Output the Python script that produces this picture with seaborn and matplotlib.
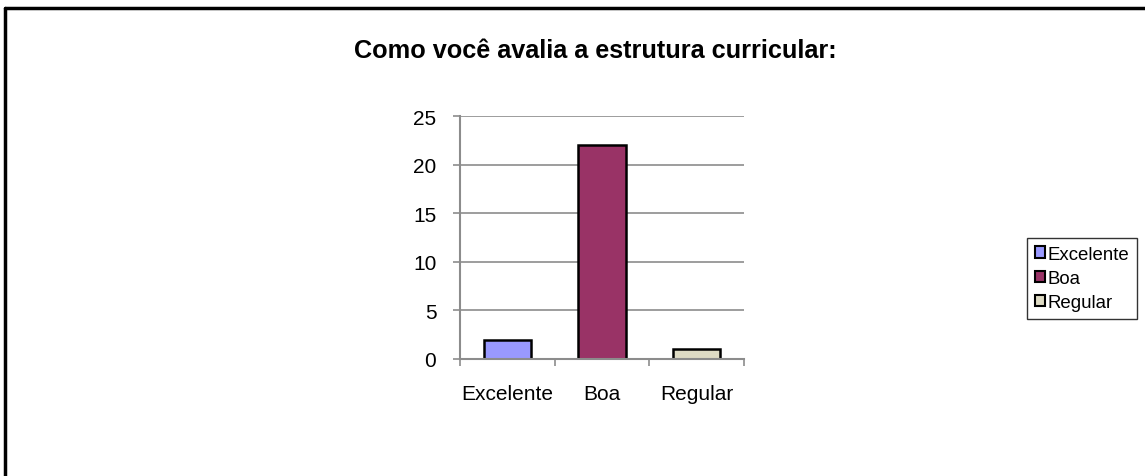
import matplotlib
matplotlib.use("Agg")
import matplotlib.pyplot as plt
import seaborn as sns
import pandas as pd
from matplotlib.patches import Patch
from matplotlib.lines import Line2D

categories = ["Excelente", "Boa", "Regular"]
values = [2, 22, 1]
colors = ["#9999FF", "#993366", "#DEDBC4"]
title = "Como você avalia a estrutura curricular:"

df = pd.DataFrame({"cat": categories, "val": values})

sns.set_theme(style="white")
plt.rcParams["font.family"] = ["Liberation Sans", "DejaVu Sans"]
plt.rcParams["text.color"] = "black"
plt.rcParams["xtick.labelcolor"] = "black"
plt.rcParams["ytick.labelcolor"] = "black"

fig = plt.figure(figsize=(11.45, 4.77), dpi=100)
ax = fig.add_axes([0.4017, 0.2453, 0.248, 0.5094])

sns.barplot(data=df, x="cat", y="val", hue="cat", palette=colors, saturation=1,
            width=0.5, edgecolor="black", linewidth=1.8, legend=False, ax=ax)

ax.set_ylim(0, 25)
ax.set_yticks([0, 5, 10, 15, 20, 25])
ax.set_xlim(-0.5, 2.5)
ax.yaxis.grid(True, color="#8c8c8c", linewidth=1.2)
ax.set_axisbelow(True)
for s in ["top", "right"]:
    ax.spines[s].set_visible(False)
for s in ["left", "bottom"]:
    ax.spines[s].set_color("#8c8c8c")
    ax.spines[s].set_linewidth(1.5)
ax.set_xlabel(""); ax.set_ylabel("")
ax.tick_params(axis="y", length=5, width=1.2, color="#8c8c8c", direction="out",
               labelsize=15, pad=12, left=True)
ax.tick_params(axis="x", length=0, labelsize=15, pad=18)
# category boundary ticks on x axis
ax.set_xticks([-0.5, 0.5, 1.5, 2.5], minor=True)
ax.tick_params(axis="x", which="minor", length=5, width=1.2, color="#8c8c8c",
               direction="out", bottom=True)

fig.text(0.52, 0.893, title, ha="center", va="center", fontsize=18.2,
         fontweight="bold")

handles = [Patch(facecolor=c, edgecolor="black", linewidth=1.5) for c in colors]
leg = fig.legend(handles, categories, loc="center left",
                 bbox_to_anchor=(0.897, 0.414), fontsize=13.4, frameon=True,
                 fancybox=False, handlelength=0.55, handleheight=0.55,
                 handletextpad=0.15, labelspacing=0.4, borderpad=0.4,
                 borderaxespad=0, edgecolor="black")
leg.get_frame().set_linewidth(1.0)

# outer chart frame (top and left edges)
fig.add_artist(Line2D([0.004, 1.0], [0.982, 0.982], color="black", linewidth=2.5,
                      transform=fig.transFigure))
fig.add_artist(Line2D([0.004, 0.004], [0.0, 0.982], color="black", linewidth=2.5,
                      transform=fig.transFigure))

fig.savefig("out.png", dpi=100)
